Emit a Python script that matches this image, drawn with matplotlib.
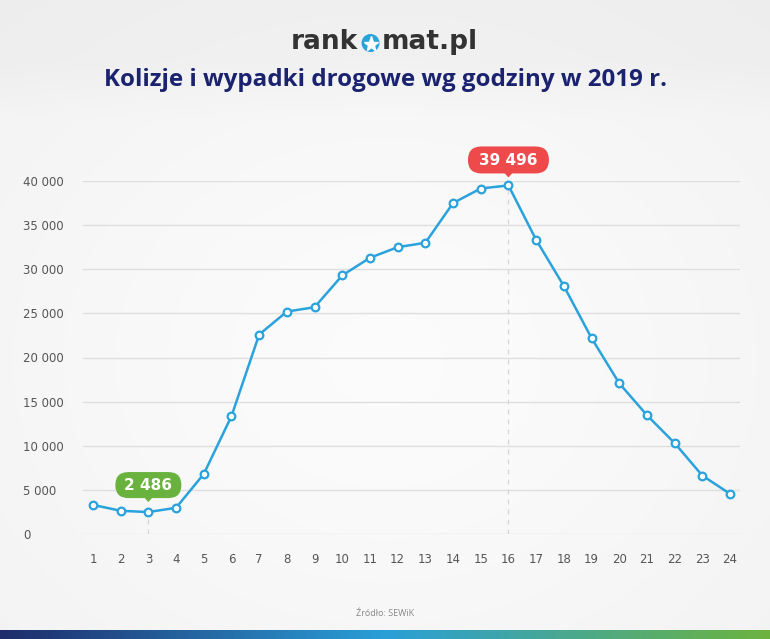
import numpy as np
import matplotlib
matplotlib.use("Agg")
import matplotlib.pyplot as plt
from matplotlib.colors import LinearSegmentedColormap
from matplotlib.patches import FancyBboxPatch, Polygon, Circle

# data
hours = list(range(1, 25))
collisions = [3300, 2630, 2486, 2970, 6800, 13350, 22600, 25200, 25700, 29300,
              31300, 32500, 33000, 37500, 39150, 39496, 33330, 28100, 22200,
              17080, 13460, 10300, 6620, 4550]
y_ticks = [0, 5000, 10000, 15000, 20000, 25000, 30000, 35000, 40000]
y_labels = ["0", "5 000", "10 000", "15 000", "20 000", "25 000", "30 000",
            "35 000", "40 000"]
min_hour, min_label = 3, "2 486"
max_hour, max_label = 16, "39 496"

W, H = 770, 639
fig = plt.figure(figsize=(W / 100, H / 100), dpi=100)

# background: light grey, whiter towards the middle, darker header band
bg = fig.add_axes([0, 0, 1, 1], zorder=-10)
yy, xx = np.mgrid[0:H, 0:W]
r2 = ((xx - 385) / 560) ** 2 + ((yy - 360) / 460) ** 2
g = 0.985 - 0.04 * (1 - np.exp(-1.6 * r2))
g -= 0.02 * np.clip((120 - yy) / 60, 0, 1)
bg.imshow(np.dstack([g, g, g]), aspect="auto", extent=[0, W, H, 0],
          interpolation="bilinear")
bg.set_xlim(0, W)
bg.set_ylim(H, 0)
bg.axis("off")

# bottom gradient strip
grad = LinearSegmentedColormap.from_list("strip", ["#1f2c6b", "#2a9fd8", "#6cb33f"])
strip = fig.add_axes([0, 0, 1, 9 / H], zorder=-5)
strip.imshow(np.linspace(0, 1, 400)[None, :], cmap=grad, aspect="auto")
strip.axis("off")

# main axes
left, right = 83 / W, 740 / W
bottom, top = 1 - 534 / H, 1 - 181 / H
ax = fig.add_axes([left, bottom, right - left, top - bottom])
ax.patch.set_alpha(0)
ax.set_xlim(0.64, 24.36)
ax.set_ylim(0, 40000)
for s in ax.spines.values():
    s.set_visible(False)
ax.set_yticks(y_ticks)
ax.set_yticklabels(y_labels, fontsize=8.5, color="#555555", family="DejaVu Sans")
for lab in ax.get_yticklabels():
    lab.set_horizontalalignment("left")
ax.set_xticks(hours)
ax.set_xticklabels([str(h) for h in hours], fontsize=8.5, color="#555555",
                   family="DejaVu Sans")
ax.tick_params(axis="y", length=0, pad=43)
ax.tick_params(axis="x", length=0, pad=14)
ax.grid(axis="y", color="#dedede", linewidth=1)
ax.set_axisbelow(True)

# dashed guides
ax.plot([min_hour, min_hour], [0, collisions[min_hour - 1]], ls=(0, (4, 4)),
        color="#d5d5d5", lw=0.9, zorder=1)
ax.plot([max_hour, max_hour], [0, collisions[max_hour - 1]], ls=(0, (4, 4)),
        color="#d5d5d5", lw=0.9, zorder=1)

ax.plot(hours, collisions, color="#2aa2dc", lw=1.8, marker="o", ms=5.5,
        mfc="white", mec="#2aa2dc", mew=1.6, clip_on=False, zorder=3)

# overlay in pixel coordinates (y down) for badges and logo
ov = fig.add_axes([0, 0, 1, 1], zorder=6)
ov.set_xlim(0, W)
ov.set_ylim(H, 0)
ov.axis("off")


def badge(x, y, text, color, w, h, gap):
    px, py = ax.transData.transform((x, y))
    py = H - py
    cy = py - gap - h / 2
    ov.add_patch(FancyBboxPatch((px - w / 2, cy - h / 2), w, h,
                                boxstyle="round,pad=0,rounding_size=%g" % (h / 2),
                                fc=color, ec="none"))
    ov.add_patch(Polygon([(px - 4, cy + h / 2 - 0.5), (px + 4, cy + h / 2 - 0.5),
                          (px, cy + h / 2 + 4)], closed=True, fc=color, ec="none"))
    ov.text(px, cy + 0.5, text, ha="center", va="center", fontsize=11,
            fontweight="bold", color="white", family="DejaVu Sans")


badge(min_hour, collisions[min_hour - 1], min_label, "#69b23d", 66, 26, 14)
badge(max_hour, collisions[max_hour - 1], max_label, "#ee4a4c", 81, 27, 12)

# logo
ov.text(358, 42, "rank", ha="right", va="center", fontsize=19,
        fontweight="bold", color="#333333", family="DejaVu Sans")
ov.text(382, 42, "mat.pl", ha="left", va="center", fontsize=19,
        fontweight="bold", color="#333333", family="DejaVu Sans")
ov.add_patch(Circle((370.5, 43), 9, fc="#2aa2dc", ec="none"))
ov.plot([370.5], [43.5], marker="*", ms=11, color="white", mec="white")

# title, scaled to the reference width
title = fig.text(0.5, 1 - 80 / H, "Kolizje i wypadki drogowe wg godziny w 2019 r.",
                 ha="center", va="center", fontsize=16, fontweight="bold",
                 color="#1b2370", family="Open Sans")
fig.canvas.draw()
tw = title.get_window_extent().width
title.set_fontsize(16 * 565 / tw)

# source
fig.text(0.5, 1 - 613 / H, "Źródło: SEWiK", ha="center", va="center",
         fontsize=6.5, color="#888888", family="Open Sans")

fig.savefig("out.png", dpi=100)
